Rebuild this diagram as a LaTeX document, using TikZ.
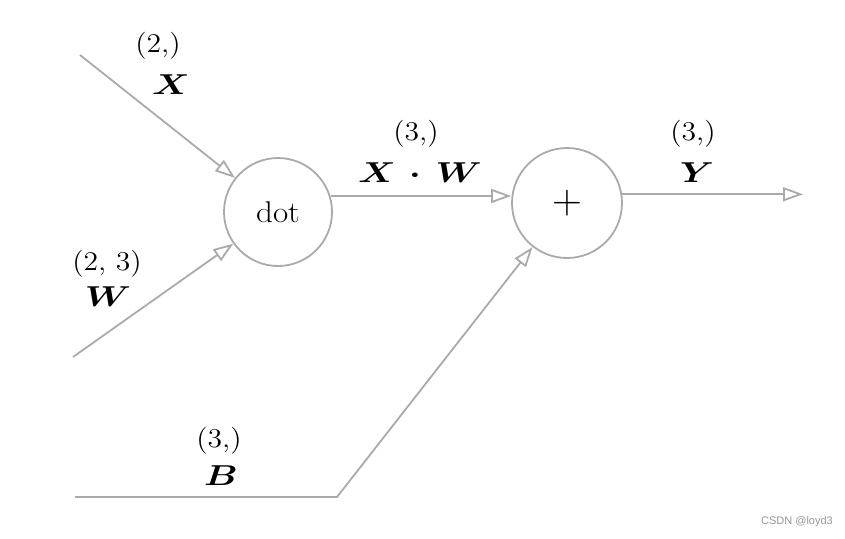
\documentclass[tikz,border=0pt]{standalone}
\usepackage{bm}
\usepackage{graphicx}
\usepackage{fontspec}
\newfontfamily\wmfont{Liberation Sans}
\usetikzlibrary{arrows.meta}
\definecolor{linegray}{RGB}{170,170,170}
\definecolor{wmgray}{RGB}{150,150,150}
\newcommand\boldlbl[1]{\scalebox{1.28}[1]{$\bm{#1}$}}
\newcommand\plainlbl[1]{\scalebox{1.1}[1]{#1}}
\tikzset{
  opnode/.style={circle, draw=linegray, line width=0.9pt, minimum size=54pt, inner sep=0pt, font=\fontsize{15}{17}\selectfont},
  conn/.style={draw=linegray, line width=0.9pt},
  arr/.style={conn, -{Triangle[open, length=10pt, width=7pt, line width=0.9pt]}},
  lbl/.style={font=\fontsize{13.5}{15}\selectfont, inner sep=0pt},
  blbl/.style={font=\fontsize{15.5}{17}\selectfont, inner sep=0pt}
}
\begin{document}
\begin{tikzpicture}[x=0.5pt, y=-0.5pt]
\useasboundingbox (0,0) rectangle (845,538);
\node[opnode] (dot) at (278,212) {\scalebox{1.1}[1]{dot}};
\node[opnode, minimum size=55pt, font=\fontsize{21}{22}\selectfont] (plus) at (567,203) {$+$};
\coordinate (xin) at (80,55);
\coordinate (win) at (73,357);
\coordinate (bstart) at (75,497);
\coordinate (bcorner) at (337,497);
\coordinate (yout) at (803,194);
\draw[arr] (xin) -- (dot);
\draw[arr] (win) -- (dot);
\draw[arr] (dot.17) -- (dot.17 -| plus.west);
\draw[arr] (plus.9) -- (plus.9 -| yout);
\draw[arr] (bstart) -- (bcorner) -- (plus);
\node[lbl] (xs) at (158,46) {\plainlbl{(2,)}};
\node[blbl] (xn) at (171,85) {\boldlbl{X}};
\node[lbl] (ws) at (107,264) {\plainlbl{(2, 3)}};
\node[blbl] (wn) at (108,297) {\boldlbl{W}};
\node[lbl] (xws) at (416,134) {\plainlbl{(3,)}};
\node[blbl] (xwn) at (420,173) {\boldlbl{X}\hspace{7pt}\boldlbl{\cdot}\hspace{7pt}\boldlbl{W}};
\node[lbl] (ys) at (693,134) {\plainlbl{(3,)}};
\node[blbl] (yn) at (697,173) {\boldlbl{Y}};
\node[lbl] (bs) at (219,441) {\plainlbl{(3,)}};
\node[blbl] (bn) at (221,476) {\boldlbl{B}};
\node[font=\wmfont\fontsize{5.5}{6}\selectfont, text=wmgray, inner sep=0pt] (wm) at (797,522) {CSDN @loyd3};
\end{tikzpicture}
\end{document}
